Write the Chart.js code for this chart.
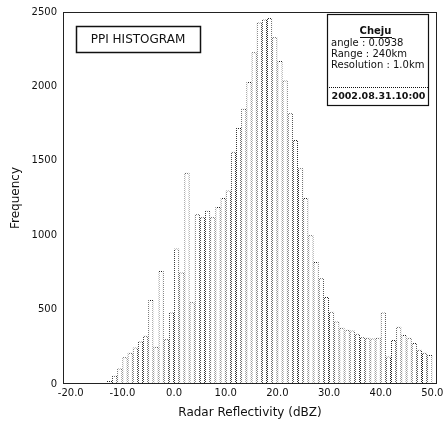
<!DOCTYPE html>
<html>
<head>
<meta charset="utf-8">
<script src="https://cdn.jsdelivr.net/npm/chart.js@4.4.0/dist/chart.umd.min.js"></script>
<style>
html, body { margin: 0; padding: 0; background: #fff; }
#wrap { width: 443px; height: 425px; }
</style>
</head>
<body>
<div id="wrap"><canvas id="histChart" width="443" height="425"></canvas></div>
<script>
// histogram bins (left edge, dBZ) and counts
var binStarts = [-20, -19, -18, -17, -16, -15, -14, -13, -12, -11,
                 -10, -9, -8, -7, -6, -5, -4, -3, -2, -1,
                 0, 1, 2, 3, 4, 5, 6, 7, 8, 9,
                 10, 11, 12, 13, 14, 15, 16, 17, 18, 19,
                 20, 21, 22, 23, 24, 25, 26, 27, 28, 29,
                 30, 31, 32, 33, 34, 35, 36, 37, 38, 39,
                 40, 41, 42, 43, 44, 45, 46, 47, 48, 49];
var counts = [0, 0, 3, 5, 5, 4, 6, 20, 55, 105,
              180, 210, 245, 285, 325, 565, 250, 760, 300, 480,
              910, 750, 1420, 550, 1140, 1120, 1165, 1120, 1190, 1250,
              1300, 1560, 1720, 1850, 2030, 2230, 2430, 2450, 2460, 2330,
              2170, 2040, 1820, 1640, 1450, 1250, 1000, 820, 710, 585,
              485, 420, 378, 365, 360, 338, 315, 310, 305, 310,
              480, 185, 295, 385, 330, 310, 275, 230, 210, 195];
var xTicks = [-20, -10, 0, 10, 20, 30, 40, 50];
var yTicks = [0, 500, 1000, 1500, 2000, 2500];

var chartTitle = 'PPI HISTOGRAM';
var infoTitle = 'Cheju';
var infoLines = ['angle : 0.0938', 'Range : 240km', 'Resolution : 1.0km'];
var infoDate = '2002.08.31.10:00';

var FONT = 'DejaVu Sans';
Chart.defaults.font.family = FONT;

var canvas = document.getElementById('histChart');
var ctxH = canvas.getContext('2d');

// dotted look of the bar outlines
function dotPattern(color) {
  var c = document.createElement('canvas');
  c.width = 2; c.height = 2;
  var g = c.getContext('2d');
  g.fillStyle = color;
  g.fillRect(0, 0, 1, 1);
  g.fillRect(1, 1, 1, 1);
  return ctxH.createPattern(c, 'repeat');
}

var points = binStarts.map(function (b, i) { return { x: b + 0.5, y: counts[i] }; });

var framePlugin = {
  id: 'frameAndNotes',
  afterDatasetsDraw: function (chart) {
    var a = chart.chartArea, ctx = chart.ctx;
    ctx.save();
    ctx.strokeStyle = '#222';
    ctx.lineWidth = 1;
    ctx.strokeRect(Math.round(a.left) + 0.5, Math.round(a.top) + 0.5,
                   Math.round(a.right - a.left) - 1, Math.round(a.bottom - a.top) - 1);

    // PPI HISTOGRAM box
    var bx = Math.round(a.left) + 13, by = Math.round(a.top) + 14, bw = 124, bh = 26;
    ctx.fillStyle = '#fff';
    ctx.fillRect(bx, by, bw, bh);
    ctx.lineWidth = 1.5;
    ctx.strokeStyle = '#111';
    ctx.strokeRect(bx + 0.5, by + 0.5, bw, bh);
    ctx.fillStyle = '#111';
    ctx.font = '12px "' + FONT + '"';
    ctx.textAlign = 'center';
    ctx.textBaseline = 'middle';
    ctx.fillText(chartTitle, bx + bw / 2, by + bh / 2 + 1);

    // station info box
    var ix = Math.round(a.right) - 110, iy = Math.round(a.top) + 2, iw = 101, ih = 91;
    ctx.fillStyle = '#fff';
    ctx.fillRect(ix, iy, iw, ih);
    ctx.lineWidth = 1.2;
    ctx.strokeStyle = '#111';
    ctx.strokeRect(ix + 0.5, iy + 0.5, iw, ih);
    ctx.fillStyle = '#111';
    ctx.font = 'bold 10px "' + FONT + '"';
    ctx.fillText(infoTitle, ix + iw / 2 - 2, iy + 17);
    var tw = ctx.measureText(infoTitle).width;
    ctx.fillRect(Math.round(ix + iw / 2 - 2 - tw / 2), iy + 23, Math.round(tw), 1);
    ctx.font = '10px "' + FONT + '"';
    ctx.textAlign = 'left';
    infoLines.forEach(function (t, i) {
      ctx.fillText(t, ix + 4, iy + 29 + i * 11);
    });
    ctx.setLineDash([1, 1]);
    ctx.lineWidth = 1;
    ctx.beginPath();
    ctx.moveTo(ix, iy + 73.5);
    ctx.lineTo(ix + iw, iy + 73.5);
    ctx.stroke();
    ctx.setLineDash([]);
    ctx.font = 'bold 9.5px "' + FONT + '"';
    ctx.textAlign = 'center';
    ctx.fillText(infoDate, ix + iw / 2 + 1, iy + 83);
    ctx.restore();
  }
};

var histChart = new Chart(ctxH, {
  type: 'bar',
  data: {
    datasets: [{
      data: points,
      backgroundColor: '#ffffff',
      borderColor: dotPattern('#222'),
      borderWidth: 1,
      barPercentage: 1,
      categoryPercentage: 1,
      inflateAmount: 0
    }]
  },
  options: {
    responsive: false,
    animation: false,
    layout: { padding: { left: 0, right: 6, top: 12, bottom: 0 } },
    plugins: { legend: { display: false }, tooltip: { enabled: false } },
    scales: {
      x: {
        type: 'linear',
        offset: false,
        min: -21.5,
        max: 50.9,
        grid: { display: false, drawTicks: false, offset: false },
        border: { display: false },
        afterBuildTicks: function (s) { s.ticks = xTicks.map(function (v) { return { value: v }; }); },
        afterFit: function (s) { s.height = 41; s.paddingLeft = 0; s.paddingRight = 0; },
        ticks: {
          padding: 3, maxRotation: 0, autoSkip: false, color: '#111',
          font: { size: 10 },
          callback: function (v) { return Number(v).toFixed(1); }
        },
        title: { display: true, text: 'Radar Reflectivity (dBZ)', color: '#111',
                 font: { size: 12 }, padding: { top: 0, bottom: 5 } }
      },
      y: {
        min: 0,
        max: 2500,
        grid: { display: false, drawTicks: false },
        border: { display: false },
        afterBuildTicks: function (s) { s.ticks = yTicks.map(function (v) { return { value: v }; }); },
        afterFit: function (s) { s.width = 63; },
        ticks: { padding: 6, color: '#111', font: { size: 10 },
                 callback: function (v) { return String(v); } },
        title: { display: true, text: 'Frequency', color: '#111',
                 font: { size: 12 }, padding: { top: 9, bottom: 0 } }
      }
    }
  },
  plugins: [framePlugin]
});
</script>
</body>
</html>
